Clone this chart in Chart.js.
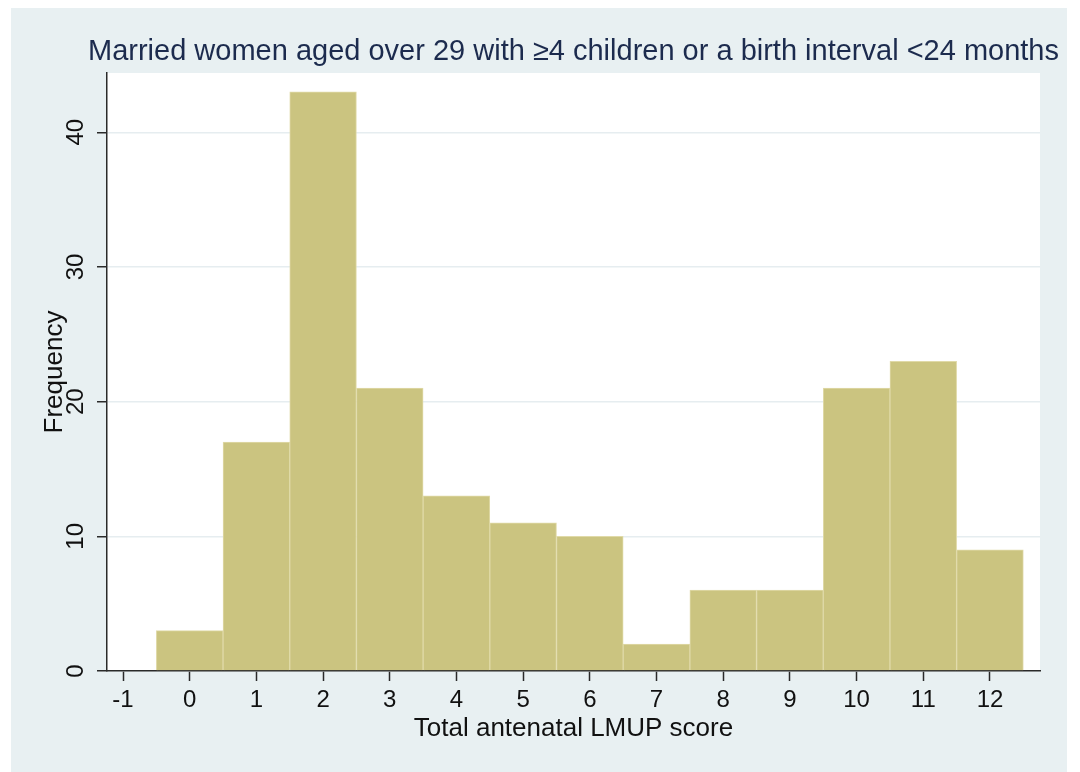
<!DOCTYPE html>
<html>
<head>
<meta charset="utf-8">
<title>LMUP score histogram</title>
<script src="https://cdn.jsdelivr.net/npm/chart.js@4.4.1/dist/chart.umd.min.js"></script>
<style>
  html, body { margin: 0; padding: 0; background: #fff; }
  #wrap { width: 1080px; height: 772px; }
</style>
</head>
<body>
<div id="wrap"><canvas id="histChart" width="1080" height="772"></canvas></div>
<script>
const chartTitle = 'Married women aged over 29 with \u22654 children or a birth interval <24 months';
const xTitle = 'Total antenatal LMUP score';
const yTitle = 'Frequency';

const scores = [0, 1, 2, 3, 4, 5, 6, 7, 8, 9, 10, 11, 12];
const frequencies = [3, 17, 43, 21, 13, 11, 10, 2, 6, 6, 21, 23, 9];
const xTickValues = [-1, 0, 1, 2, 3, 4, 5, 6, 7, 8, 9, 10, 11, 12];
const yTickValues = [0, 10, 20, 30, 40];

const fontFamily = "'Liberation Sans', Arial, Helvetica, sans-serif";
const panelColor = '#e8f0f2';
const axisColor = '#2a2a2a';

// background panel + white plot region, title over the plot area
const panelPlugin = {
  id: 'panel',
  beforeDraw(chart) {
    const { ctx, chartArea: a } = chart;
    ctx.save();
    ctx.fillStyle = panelColor;
    ctx.fillRect(11, 8, 1056, 764);
    ctx.fillStyle = '#ffffff';
    ctx.fillRect(a.left, a.top, a.right - a.left, a.bottom - a.top);
    ctx.restore();
  },
  afterDraw(chart) {
    const { ctx, chartArea: a } = chart;
    ctx.save();
    ctx.font = `29px ${fontFamily}`;
    ctx.fillStyle = '#1c2b4e';
    ctx.textAlign = 'center';
    ctx.textBaseline = 'middle';
    ctx.fillText(chartTitle, (a.left + a.right) / 2, 52);
    ctx.restore();
  }
};

const ctx = document.getElementById('histChart').getContext('2d');

new Chart(ctx, {
  type: 'bar',
  data: {
    datasets: [{
      data: scores.map((s, i) => ({ x: s, y: frequencies[i] })),
      backgroundColor: '#cbc480',
      borderColor: '#e0daa8',
      borderWidth: 1,
      borderSkipped: 'bottom',
      barPercentage: 1,
      categoryPercentage: 1
    }]
  },
  options: {
    responsive: false,
    animation: false,
    events: [],
    layout: { padding: { top: 73, right: 40, left: 0, bottom: 0 } },
    plugins: {
      legend: { display: false },
      title: { display: false },
      tooltip: { enabled: false }
    },
    scales: {
      x: {
        type: 'linear',
        min: -1.24,
        max: 12.75,
        offset: false,
        z: 1,
        afterBuildTicks: axis => { axis.ticks = xTickValues.map(v => ({ value: v })); },
        afterFit: axis => { axis.height = 101; },
        grid: {
          offset: false,
          drawOnChartArea: false,
          drawTicks: true,
          tickLength: 10,
          tickColor: axisColor,
          tickWidth: 1.5
        },
        border: { color: axisColor, width: 1.5 },
        ticks: {
          padding: 5,
          color: '#111',
          font: { family: fontFamily, size: 24 },
          maxRotation: 0,
          autoSkip: false
        },
        title: {
          display: true,
          text: xTitle,
          color: '#111',
          font: { family: fontFamily, size: 26 },
          padding: { top: 0, bottom: 28 }
        }
      },
      y: {
        min: 0,
        max: 44.4,
        afterBuildTicks: axis => { axis.ticks = yTickValues.map(v => ({ value: v })); },
        afterFit: axis => { axis.width = 107; },
        grid: {
          color: '#e6edf0',
          lineWidth: 1.5,
          drawTicks: true,
          tickLength: 10,
          tickColor: axisColor,
          tickWidth: 1.5
        },
        border: { color: axisColor, width: 1.5 },
        ticks: {
          padding: 7,
          crossAlign: 'center',
          minRotation: 90,
          maxRotation: 90,
          color: '#111',
          font: { family: fontFamily, size: 24 }
        },
        title: {
          display: true,
          text: yTitle,
          color: '#111',
          font: { family: fontFamily, size: 26 },
          padding: { top: 39, bottom: 0 }
        }
      }
    }
  },
  plugins: [panelPlugin]
});
</script>
</body>
</html>
